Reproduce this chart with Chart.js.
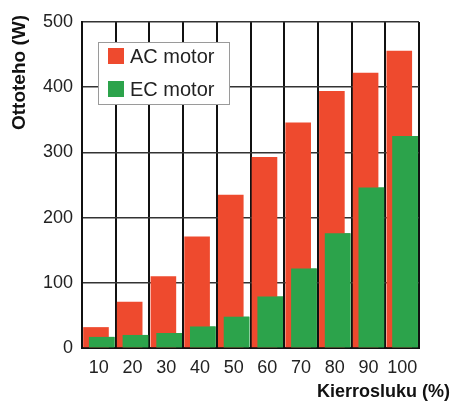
<!DOCTYPE html>
<html>
<head>
<meta charset="utf-8">
<script src="https://cdn.jsdelivr.net/npm/chart.js@4/dist/chart.umd.min.js"></script>
<style>
  html, body { margin: 0; padding: 0; background: #fff; }
  canvas { display: block; }
</style>
</head>
<body>
<canvas id="c" width="454" height="401"></canvas>
<script>
const categories = ['10', '20', '30', '40', '50', '60', '70', '80', '90', '100'];
const acMotor = [32, 71, 110, 171, 235, 293, 346, 394, 422, 456];
const ecMotor = [17, 20, 23, 33, 48, 79, 122, 176, 246, 325];
const seriesNames = ['AC motor', 'EC motor'];
const yTitle = 'Ottoteho (W)';
const xTitle = 'Kierrosluku (%)';

const RED = '#ee4a2e';
const GREEN = '#2ca34b';

const overlay = {
  id: 'overlay',
  afterDatasetsDraw(chart) {
    // put EC bars on top of AC bars
    const meta = chart.getDatasetMeta(1);
    if (meta && meta.controller) meta.controller.draw();
  },
  afterDraw(chart) {
    const ctx = chart.ctx;
    const a = chart.chartArea;
    ctx.save();
    // legend box
    const bx = a.left + 16, by = a.top + 20, bw = 131, bh = 62;
    ctx.fillStyle = '#fff';
    ctx.fillRect(bx, by, bw, bh);
    ctx.strokeStyle = '#9a9a9a';
    ctx.lineWidth = 1;
    ctx.strokeRect(bx + 0.5, by + 0.5, bw, bh);
    const items = [
      { label: chart.data.datasets[0].label, color: chart.data.datasets[0].backgroundColor },
      { label: chart.data.datasets[1].label, color: chart.data.datasets[1].backgroundColor }
    ];
    ctx.font = '20px "Liberation Sans", Arial, sans-serif';
    ctx.textBaseline = 'middle';
    ctx.textAlign = 'left';
    items.forEach((it, i) => {
      const cy = by + 14 + i * 33;
      ctx.fillStyle = it.color;
      ctx.fillRect(bx + 10, cy - 8, 16, 16);
      ctx.fillStyle = '#222';
      ctx.fillText(it.label, bx + 32, cy + 1);
    });
    // y title
    ctx.font = 'bold 19px "Liberation Sans", Arial, sans-serif';
    ctx.fillStyle = '#111';
    ctx.save();
    ctx.translate(20, a.top - 7);
    ctx.rotate(-Math.PI / 2);
    ctx.textAlign = 'right';
    ctx.textBaseline = 'middle';
    ctx.fillText(yTitle, 0, 0);
    ctx.restore();
    // x title
    ctx.font = 'bold 18px "Liberation Sans", Arial, sans-serif';
    ctx.textAlign = 'right';
    ctx.textBaseline = 'middle';
    ctx.fillText(xTitle, 450, 392);
    ctx.restore();
  }
};

new Chart(document.getElementById('c'), {
  type: 'bar',
  data: {
    labels: categories,
    datasets: [
      { label: seriesNames[0], data: acMotor, backgroundColor: RED, borderWidth: 0,
        categoryPercentage: 0.34, barPercentage: 4.47 },
      { label: seriesNames[1], data: ecMotor, backgroundColor: GREEN, borderWidth: 0,
        categoryPercentage: 0.34, barPercentage: 4.47 }
    ]
  },
  options: {
    responsive: false,
    animation: false,
    layout: { padding: { top: 22, right: 35, left: 0, bottom: 0 } },
    plugins: { legend: { display: false }, tooltip: { enabled: false } },
    scales: {
      x: {
        offset: true,
        grid: { offset: true, color: '#111', lineWidth: 2, drawTicks: false, tickLength: 0 },
        border: { display: true, color: '#111', width: 2 },
        ticks: { color: '#222', padding: 9, font: { size: 18, family: '"Liberation Sans", Arial, sans-serif' }, maxRotation: 0 },
        afterFit(scale) { scale.height = 53; }
      },
      y: {
        min: 0, max: 500,
        grid: { color: '#333', lineWidth: 1.5, drawTicks: false, tickLength: 0 },
        border: { display: true, color: '#111', width: 2 },
        ticks: { stepSize: 100, color: '#222', padding: 9, font: { size: 18, family: '"Liberation Sans", Arial, sans-serif' } },
        afterFit(scale) { scale.width = 82; }
      }
    }
  },
  plugins: [overlay]
});
</script>
</body>
</html>
